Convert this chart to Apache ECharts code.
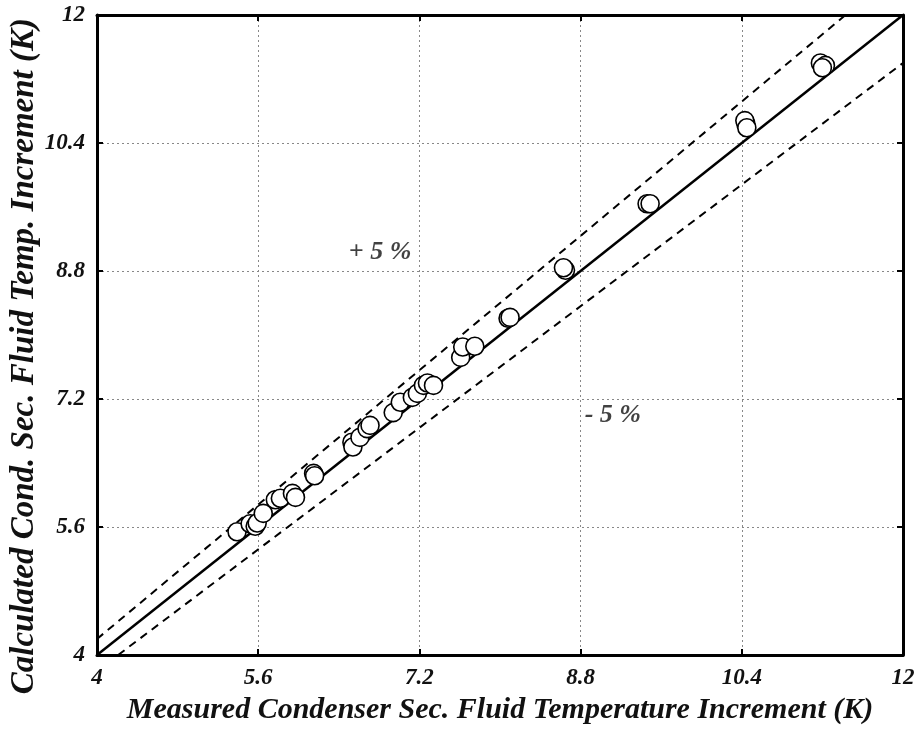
<!DOCTYPE html>
<html><head><meta charset="utf-8">
<script src="https://cdn.jsdelivr.net/npm/echarts@6/dist/echarts.min.js"></script>
<style>html,body{margin:0;padding:0;background:#fff}#c{width:917px;height:731px}</style>
</head><body><div id="c"></div>
<script>
const measured = [5.39,5.52,5.57,5.59,5.65,5.77,5.82,5.94,5.97,6.15,6.16,6.53,6.54,6.61,6.68,6.71,6.94,7.01,7.13,7.18,7.24,7.28,7.34,7.61,7.63,7.75,8.08,8.10,8.65,8.63,9.46,9.49,10.44,10.43,10.45,11.18,11.23,11.20];
const calculated = [5.54,5.64,5.61,5.65,5.77,5.94,5.96,6.02,5.97,6.27,6.24,6.66,6.60,6.72,6.83,6.87,7.03,7.16,7.22,7.27,7.37,7.40,7.37,7.72,7.85,7.86,8.21,8.22,8.81,8.84,9.64,9.64,10.64,10.68,10.59,11.40,11.37,11.34];
const ticks = [4,5.6,7.2,8.8,10.4,12];
const idealLine = [[4,4],[12,12]];
const plus5Line = [[4,4.2],[11.43,12]];
const minus5Line = [[4.21,4],[12,11.4]];
const bandLabels = [{text:'+ 5 %', x:6.81, y:9.03},{text:'- 5 %', x:9.12, y:7.0}];
const xTitle = 'Measured Condenser Sec. Fluid Temperature Increment (K)';
const yTitle = 'Calculated Cond. Sec. Fluid Temp. Increment (K)';

const font = 'Liberation Serif';
const points = measured.map((m,i)=>[m,calculated[i]]);
const chart = echarts.init(document.getElementById('c'));
const axisCommon = {
  min:ticks[0], max:ticks[ticks.length-1], interval:ticks[1]-ticks[0],
  axisLine:{show:true, lineStyle:{color:'#000', width:3}},
  axisTick:{show:true, inside:true, length:6, lineStyle:{color:'#000', width:2}},
  splitLine:{show:true, lineStyle:{color:'#888', type:[2,3], width:1}},
};
chart.setOption({
  animation:false,
  grid:{left:97, right:14, top:15, bottom:76, outerBoundsMode:'none', containLabel:false},
  graphic:[{type:'text', left:8, top:18, rotation:Math.PI/2,
    style:{text:yTitle, fontFamily:font, fontStyle:'italic', fontWeight:'bold', fontSize:33, fill:'#111'}}],
  xAxis:[Object.assign({}, axisCommon, {
    type:'value', position:'bottom',
    axisLabel:{fontFamily:font, fontStyle:'italic', fontWeight:'bold', fontSize:23, color:'#111', margin:12,
      formatter:v=>String(+v.toFixed(1))},
    name:xTitle, nameLocation:'middle', nameGap:38,
    nameTextStyle:{fontFamily:font, fontStyle:'italic', fontWeight:'bold', fontSize:30, color:'#111'}
  }), Object.assign({}, axisCommon, {
    type:'value', position:'top', axisLabel:{show:false}, splitLine:{show:false}
  })],
  yAxis:[Object.assign({}, axisCommon, {
    type:'value', position:'left',
    axisLabel:{fontFamily:font, fontStyle:'italic', fontWeight:'bold', fontSize:23, color:'#111', margin:12,
      formatter:v=>String(+v.toFixed(1))}
  }), Object.assign({}, axisCommon, {
    type:'value', position:'right', axisLabel:{show:false}, splitLine:{show:false}
  })],
  series:[
    {type:'line', data:idealLine, symbol:'none', lineStyle:{color:'#000', width:2.5}, z:3},
    {type:'line', data:plus5Line, symbol:'none', lineStyle:{color:'#000', width:2, type:[8,6]}, z:3},
    {type:'line', data:minus5Line, symbol:'none', lineStyle:{color:'#000', width:2, type:[8,6]}, z:3},
    {type:'scatter', data:points, symbol:'circle', symbolSize:18,
      itemStyle:{color:'#fff', borderColor:'#000', borderWidth:1.6, opacity:1}, z:5},
    {type:'scatter', data:bandLabels.map(b=>({value:[b.x,b.y], name:b.text})), symbolSize:0, z:6,
      label:{show:true, position:'inside', formatter:p=>p.name, fontFamily:font, fontStyle:'italic', fontWeight:'bold', fontSize:26, color:'#111'}}
  ]
});
</script></body></html>
